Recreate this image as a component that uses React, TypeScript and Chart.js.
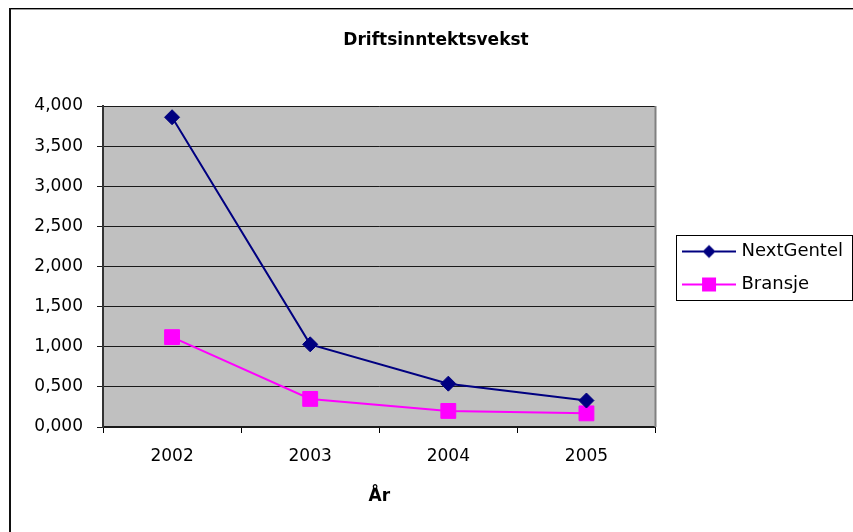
import React, { useEffect, useRef } from "react";
import { Chart, registerables } from "chart.js";

Chart.register(...registerables);

const categories = ["2002", "2003", "2004", "2005"];
const nextGentel = [3.86, 1.03, 0.54, 0.33];
const bransje = [1.12, 0.35, 0.2, 0.17];
const seriesNames = ["NextGentel", "Bransje"];
const chartTitle = "Driftsinntektsvekst";
const xTitle = "År";

const NAVY = "#000080";
const PINK = "#FF00FF";
const FONT = "'DejaVu Sans', 'Liberation Sans', Arial, sans-serif";

function makeIcon(color: string, kind: "diamond" | "square"): HTMLCanvasElement {
  const c = document.createElement("canvas");
  c.width = 54;
  c.height = 20;
  const g = c.getContext("2d")!;
  g.strokeStyle = color;
  g.lineWidth = 2;
  g.beginPath();
  g.moveTo(0, 10);
  g.lineTo(54, 10);
  g.stroke();
  g.fillStyle = color;
  if (kind === "diamond") {
    g.beginPath();
    g.moveTo(27 - 6.5, 10);
    g.lineTo(27, 10 - 6.5);
    g.lineTo(27 + 6.5, 10);
    g.lineTo(27, 10 + 6.5);
    g.closePath();
    g.fill();
  } else {
    g.fillRect(20, 3, 14, 14);
  }
  return c;
}

const frame = {
  id: "frame",
  afterLayout(chart: any) {
    const lg = chart.legend;
    if (lg) {
      lg.left = chart.chartArea.right + 15;
      lg.right = chart.width;
      lg.top += 2;
      lg.bottom += 2;
    }
  },
  beforeDraw(chart: any) {
    const { ctx, chartArea: a } = chart;
    ctx.save();
    ctx.fillStyle = "#ffffff";
    ctx.fillRect(0, 0, chart.width, chart.height);
    ctx.fillStyle = "#C0C0C0";
    ctx.fillRect(a.left, a.top, a.right - a.left, a.bottom - a.top);
    ctx.restore();
  },
  beforeDatasetsDraw(chart: any) {
    const { ctx, chartArea: a } = chart;
    ctx.save();
    ctx.strokeStyle = "#808080";
    ctx.lineWidth = 2;
    ctx.beginPath();
    ctx.moveTo(a.right, a.top);
    ctx.lineTo(a.right, a.bottom);
    ctx.stroke();
    ctx.restore();
  },
  afterDraw(chart: any) {
    const { ctx } = chart;
    ctx.save();
    // outer chart border
    ctx.fillStyle = "#000";
    ctx.fillRect(9, 8, chart.width, 1);
    ctx.fillStyle = "#9a9a9a";
    ctx.fillRect(11, 9, chart.width, 1);
    ctx.fillStyle = "#111";
    ctx.fillRect(9, 8, 2, chart.height);
    // legend border
    const hb = chart.legend && chart.legend.legendHitBoxes;
    if (hb && hb.length) {
      const left = hb[0].left - 9.5;
      const top = hb[0].top - 8;
      const last = hb[hb.length - 1];
      const bottom = last.top + last.height + 6;
      const right = chart.width - 1;
      ctx.strokeStyle = "#000";
      ctx.lineWidth = 1;
      ctx.strokeRect(Math.round(left) + 0.5, Math.round(top) + 0.5, Math.round(right - left), Math.round(bottom - top));
    }
    ctx.restore();
  },
};

export default function App() {
  const ref = useRef<HTMLCanvasElement>(null);

  useEffect(() => {
    const canvas = ref.current!;
    const icons = [makeIcon(NAVY, "diamond"), makeIcon(PINK, "square")];
    const chart = new Chart(canvas, {
      type: "line",
      data: {
        labels: categories,
        datasets: [
          {
            label: seriesNames[0],
            data: nextGentel,
            borderColor: NAVY,
            backgroundColor: NAVY,
            borderWidth: 2,
            pointStyle: "rectRot",
            pointRadius: 7.5,
            pointBorderWidth: 1,
            pointBackgroundColor: NAVY,
            pointBorderColor: NAVY,
            tension: 0,
          },
          {
            label: seriesNames[1],
            data: bransje,
            borderColor: PINK,
            backgroundColor: PINK,
            borderWidth: 2,
            pointStyle: "rect",
            pointRadius: 10.5,
            pointBorderWidth: 1,
            pointBackgroundColor: PINK,
            pointBorderColor: PINK,
            tension: 0,
          },
        ],
      },
      options: {
        responsive: false,
        animation: false,
        devicePixelRatio: 1,
        layout: { padding: { left: 34, right: 15, top: 0, bottom: 0 } },
        plugins: {
          tooltip: { enabled: false },
          title: {
            display: true,
            text: chartTitle,
            color: "#000",
            font: { family: FONT, size: 17, weight: "bold" },
            padding: { top: 30.8, bottom: 54.8 },
          },
          legend: {
            display: true,
            position: "right",
            align: "center",
            labels: {
              color: "#000",
              font: { family: FONT, size: 18 },
              usePointStyle: true,
              pointStyleWidth: 47,
              padding: 15,
              generateLabels: (ch: any) => {
                const items = Chart.defaults.plugins.legend.labels.generateLabels(ch);
                items.forEach((it: any, i: number) => {
                  it.pointStyle = icons[i];
                });
                return items;
              },
            },
          },
        },
        scales: {
          x: {
            type: "category",
            offset: true,
            grid: {
              display: true,
              offset: true,
              drawOnChartArea: false,
              drawTicks: true,
              tickLength: 6,
              color: "#000",
            },
            border: { display: true, color: "#1a1a1a", width: 2 },
            ticks: {
              color: "#000",
              font: { family: FONT, size: 17 },
              padding: 13,
              maxRotation: 0,
            },
            title: {
              display: true,
              text: xTitle,
              color: "#000",
              font: { family: FONT, size: 17, weight: "bold" },
              padding: { top: 7.4, bottom: 24.8 },
            },
          },
          y: {
            type: "linear",
            min: 0,
            max: 4,
            position: "left",
            afterFit: (s: any) => {
              s.width = 69;
            },
            grid: {
              display: true,
              color: "#1a1a1a",
              lineWidth: 1,
              drawTicks: true,
              tickLength: 6,
            },
            border: { display: true, color: "#333", width: 2 },
            ticks: {
              stepSize: 0.5,
              color: "#000",
              font: { family: FONT, size: 17 },
              padding: 14,
              callback: (v: any) => Number(v).toFixed(3).replace(".", ","),
            },
          },
        },
      } as any,
      plugins: [frame],
    });
    return () => chart.destroy();
  }, []);

  return (
    <div style={{ position: "fixed", left: 0, top: 0, width: 853, height: 532, overflow: "hidden", background: "#fff" }}>
      <canvas ref={ref} width={853} height={532} style={{ display: "block", width: 853, height: 532 }} />
    </div>
  );
}
